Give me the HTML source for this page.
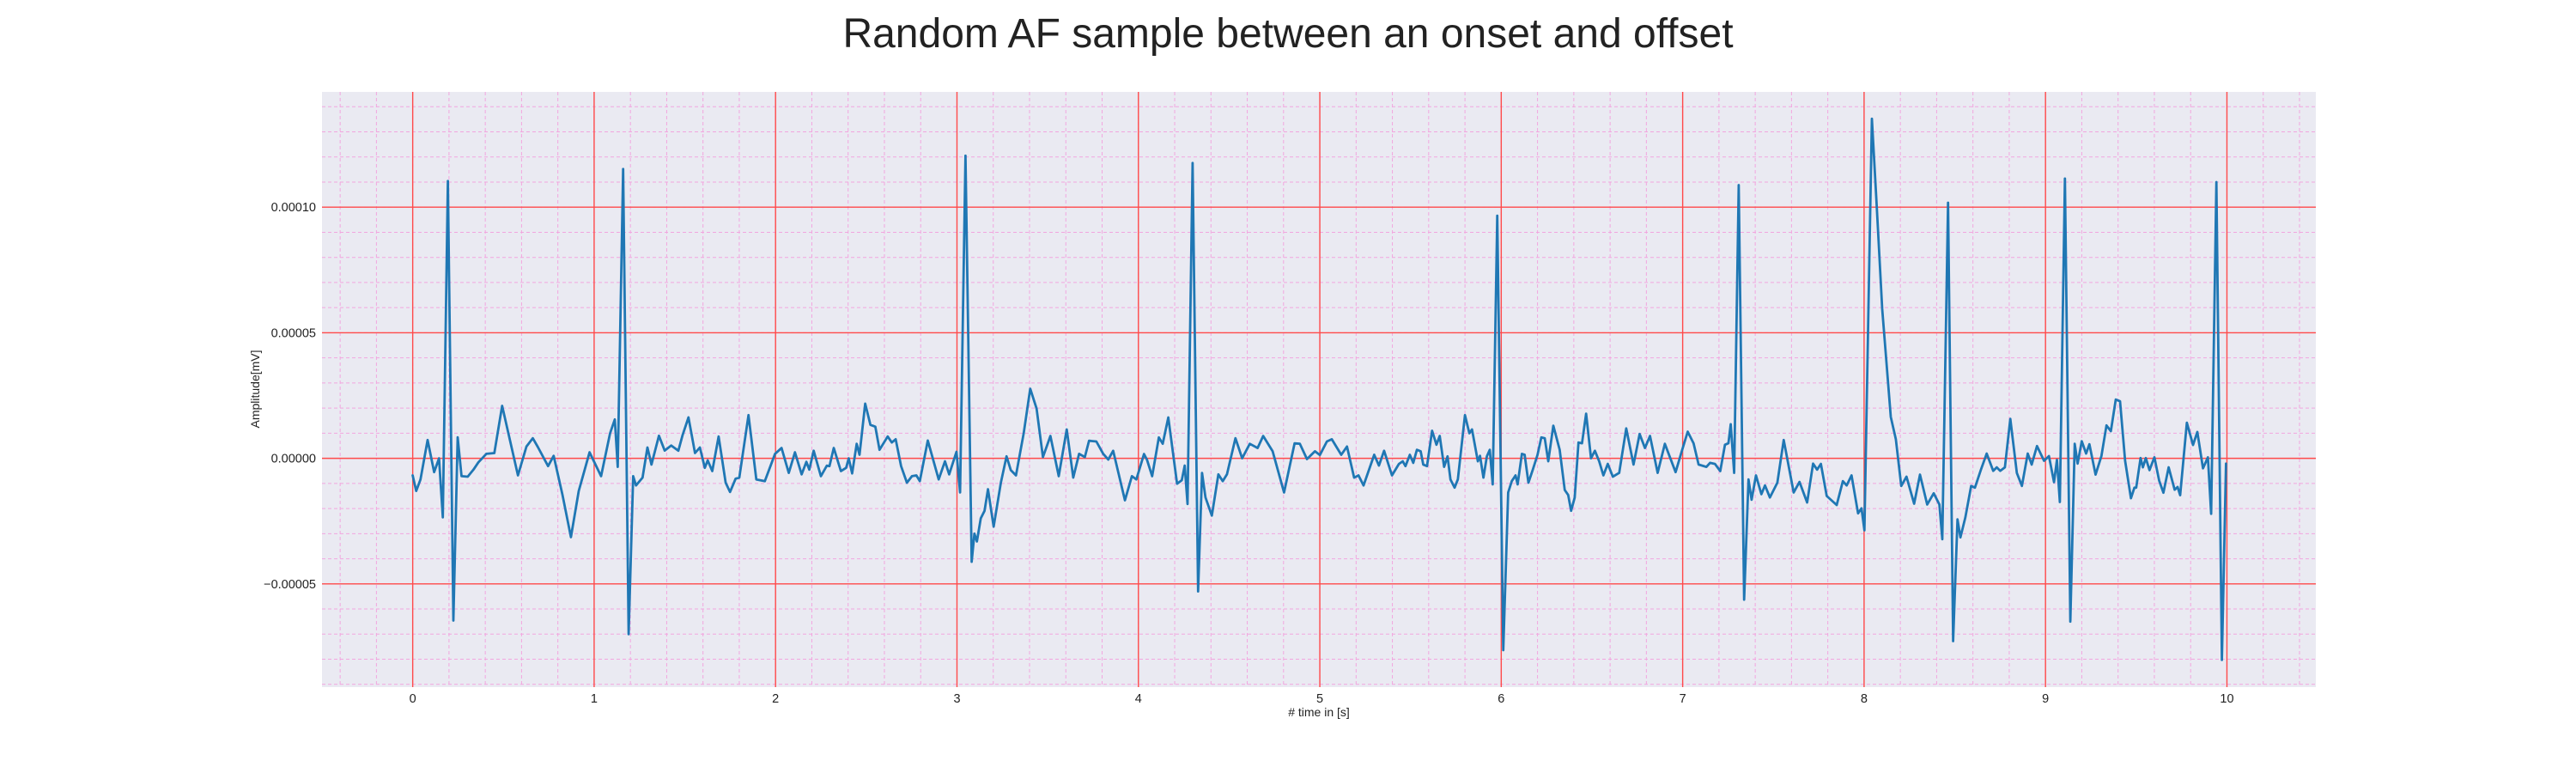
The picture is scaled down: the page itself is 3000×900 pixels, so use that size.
<!DOCTYPE html>
<html><head><meta charset="utf-8"><style>
html,body{margin:0;padding:0;background:#fff;}
svg{display:block;font-family:"Liberation Sans",Arial,sans-serif;}
</style></head><body>
<svg id="chart" width="3000" height="900" viewBox="0 0 3000 900" xmlns="http://www.w3.org/2000/svg">
<text x="1500" y="55" font-size="48" text-anchor="middle" fill="#222">Random AF sample between an onset and offset</text>
<rect x="375" y="107" width="2322" height="693" fill="#EAEAF2"/>
<g id="grid"></g>
<g id="ticks"></g>
<g id="series"></g>
<text transform="translate(302,453) rotate(-90)" font-size="14" text-anchor="middle" fill="#222">Amplitude[mV]</text>
<text x="1536" y="834" font-size="14" text-anchor="middle" fill="#222">#  time in [s]</text>
</svg>
<script>
const xTicks=[0,1,2,3,4,5,6,7,8,9,10];
const yTicks=[-0.00005,0,0.00005,0.0001];
const yTickLabels=["\u22120.00005","0.00000","0.00005","0.00010"];
const times=[0,.019,.043,.082,.118,.145,.166,.194,.224,.248,.269,.303,.335,.362,.406,.45,.493,.58,.627,.662,.69,.746,.777,.825,.872,.915,.975,1.038,1.088,1.114,1.13,1.16,1.19,1.215,1.231,1.267,1.294,1.316,1.357,1.389,1.425,1.464,1.488,1.52,1.556,1.583,1.61,1.626,1.651,1.686,1.725,1.749,1.78,1.8,1.851,1.894,1.941,1.997,2.033,
2.073,2.107,2.144,2.17,2.186,2.21,2.25,2.283,2.297,2.321,2.36,2.389,2.403,2.422,2.447,2.463,2.494,2.523,2.55,2.573,2.618,2.641,2.662,2.692,2.724,2.752,2.776,2.795,2.839,2.899,2.934,2.957,2.997,3.017,3.047,3.081,3.096,3.11,3.131,3.152,3.171,3.202,3.242,3.273,3.297,3.325,3.368,3.404,3.439,3.474,3.515,3.561,3.605,3.641,3.673,3.705,3.728,3.768,3.806,3.834,3.861,3.89,3.926,3.964,3.989,4.031,
4.047,4.076,4.113,4.134,4.165,4.213,4.239,4.255,4.271,4.299,4.329,4.351,4.37,4.405,4.441,4.465,4.488,4.535,4.572,4.614,4.657,4.688,4.74,4.803,4.861,4.89,4.929,4.973,5.0,5.039,5.066,5.118,5.15,5.189,5.213,5.241,5.3,5.326,5.354,5.398,5.436,5.457,5.472,5.496,5.515,5.535,5.556,5.57,5.591,5.619,5.643,5.661,5.685,5.704,5.72,5.743,5.761,5.8,5.824,5.839,5.871,5.883,5.902,5.921,5.937,5.953,5.978,6.011,6.038,
6.058,6.079,6.09,6.114,6.129,6.15,6.174,6.2,6.221,6.24,6.259,6.287,6.322,6.35,6.369,6.385,6.405,6.426,6.445,6.468,6.495,6.516,6.54,6.563,6.587,6.615,6.65,6.689,6.729,6.763,6.792,6.82,6.862,6.902,6.961,6.997,7.028,7.06,7.088,7.131,7.151,7.178,7.207,7.233,7.252,7.265,7.284,7.309,7.339,7.363,7.38,7.404,7.434,7.454,7.481,7.522,7.557,7.612,7.644,7.686,7.719,7.741,7.762,7.794,7.849,7.883,7.904,7.931,7.967,7.986,8.002,
8.043,8.068,8.1,8.147,8.175,8.205,8.234,8.276,8.308,8.348,8.384,8.415,8.431,8.463,8.491,8.515,8.531,8.558,8.59,8.611,8.645,8.676,8.712,8.731,8.75,8.776,8.806,8.842,8.87,8.902,8.924,8.953,8.992,9.019,9.047,9.063,9.079,9.107,9.137,9.161,9.177,9.2,9.224,9.242,9.276,9.308,9.336,9.36,9.387,9.411,9.439,9.471,9.49,9.5,9.524,9.537,9.553,9.573,9.6,9.626,9.65,9.679,9.712,9.728,9.742,9.779,9.813,9.837,9.868,9.895,9.913,9.942,9.972,9.995];
const amplitudes=[-0.68,-1.3,-0.84,0.73,-0.55,0,-2.35,11.04,-6.46,0.84,-0.71,-0.73,-0.45,-0.16,0.18,0.21,2.09,-0.68,0.47,0.8,0.45,-0.31,0.1,-1.43,-3.14,-1.3,0.24,-0.71,1.0,1.55,-0.34,11.52,-7.0,-0.71,-1.08,-0.77,0.43,-0.25,0.9,0.31,0.51,0.3,0.93,1.63,0.21,0.43,-0.38,-0.08,-0.51,0.87,-0.97,-1.34,-0.81,-0.77,1.72,-0.84,-0.91,0.18,0.41,
-0.58,0.24,-0.64,-0.14,-0.45,0.3,-0.71,-0.29,-0.31,0.41,-0.51,-0.38,0,-0.6,0.58,0.14,2.18,1.33,1.26,0.34,0.87,0.63,0.76,-0.31,-0.97,-0.71,-0.68,-0.91,0.71,-0.84,-0.12,-0.64,0.26,-1.36,12.05,-4.12,-3.0,-3.31,-2.39,-2.09,-1.23,-2.72,-0.97,0.08,-0.47,-0.68,1.0,2.77,1.98,0.05,0.89,-0.71,1.15,-0.77,0.18,0.05,0.7,0.67,0.18,-0.05,0.3,-0.58,-1.67,-0.71,-0.84,0.17,
-0.05,-0.71,0.83,0.58,1.63,-1.01,-0.87,-0.29,-1.82,11.76,-5.3,-0.58,-1.56,-2.28,-0.64,-0.91,-0.64,0.8,0,0.58,0.41,0.89,0.28,-1.36,0.6,0.58,-0.03,0.28,0.13,0.67,0.76,0.14,0.47,-0.77,-0.68,-1.08,0.14,-0.29,0.3,-0.68,-0.22,-0.12,-0.31,0.14,-0.18,0.34,0.28,-0.25,-0.31,1.1,0.54,0.89,-0.34,0.08,-0.84,-1.17,-0.84,1.72,1.0,1.15,-0.12,0.1,-0.77,0.08,0.34,-1.04,9.66,-7.64,-1.36,
-0.91,-0.68,-1.04,0.18,0.14,-0.97,-0.45,0.14,0.83,0.8,-0.12,1.3,0.34,-1.26,-1.46,-2.09,-1.56,0.63,0.6,1.78,0,0.3,-0.12,-0.68,-0.22,-0.73,-0.58,1.19,-0.25,0.97,0.41,0.89,-0.58,0.58,-0.55,0.33,1.06,0.6,-0.25,-0.34,-0.18,-0.22,-0.51,0.54,0.6,1.36,-0.58,10.88,-5.63,-0.84,-1.65,-0.68,-1.43,-1.08,-1.56,-0.97,0.73,-1.36,-0.94,-1.76,-0.21,-0.45,-0.22,-1.5,-1.86,-0.91,-1.08,-0.68,-2.19,-1.99,-2.87,
13.52,10.25,5.95,1.65,0.76,-1.1,-0.73,-1.81,-0.65,-1.84,-1.39,-1.84,-3.22,10.18,-7.28,-2.43,-3.15,-2.36,-1.1,-1.17,-0.43,0.19,-0.5,-0.36,-0.5,-0.36,1.57,-0.58,-1.1,0.19,-0.25,0.49,-0.1,0.09,-0.95,-0.06,-1.74,11.14,-6.5,0.58,-0.21,0.68,0.19,0.56,-0.65,0.09,1.31,1.08,2.34,2.27,-0.1,-1.59,-1.17,-1.17,0.01,-0.36,0.01,-0.47,0.04,-0.88,-1.37,-0.36,-1.25,-1.14,-1.47,1.42,0.53,1.05,-0.4,0.04,-2.21,11.0,-8.03,-0.21];
const AMP_UNIT=1e-5;

const NS="http://www.w3.org/2000/svg";
const X0=375,X1=2697,Y0=107,Y1=800;
const XMIN=-0.5,XMAX=10.49,YMIN=-0.0000911,YMAX=0.0001459;
function sx(t){return X0+(t-XMIN)/(XMAX-XMIN)*(X1-X0);}
function sy(v){return Y1-(v-YMIN)/(YMAX-YMIN)*(Y1-Y0);}
function mk(tag,attrs,parent){const e=document.createElementNS(NS,tag);for(const k in attrs)e.setAttribute(k,attrs[k]);parent.appendChild(e);return e;}
const grid=document.getElementById('grid'),ticks=document.getElementById('ticks'),series=document.getElementById('series');

for(let i=-2;i<=52;i++){const t=i*0.2;if(t<XMIN||t>XMAX)continue;
 const l=mk('line',{x1:sx(t),x2:sx(t),y1:Y0,y2:Y1,stroke:'#f2a6df','stroke-width':1,'stroke-dasharray':'4,3'},grid);
 
 }
for(let i=-9;i<=14;i++){const v=i*1e-5;
 const l=mk('line',{x1:X0,x2:X1,y1:sy(v),y2:sy(v),stroke:'#f2a6df','stroke-width':1,'stroke-dasharray':'4,3'},grid);
 
 }
xTicks.forEach(t=>{
 const l=mk('line',{x1:sx(t),x2:sx(t),y1:Y0,y2:Y1,stroke:'#ff4a4a','stroke-width':1.4},grid);
 
 
 const tx=mk('text',{x:sx(t),y:818,'font-size':14.5,'text-anchor':'middle',fill:'#222'},ticks);
 tx.textContent=String(t);
 
 });
yTicks.forEach((v,i)=>{
 const l=mk('line',{x1:X0,x2:X1,y1:sy(v),y2:sy(v),stroke:'#ff4a4a','stroke-width':1.4},grid);
 
 
 const tx=mk('text',{x:368,y:sy(v)+5,'font-size':14.5,'text-anchor':'end',fill:'#222'},ticks);
 tx.textContent=yTickLabels[i];
 
 });
let d='';
times.forEach((t,i)=>{d+=(i?'L':'M')+sx(t).toFixed(1)+','+sy(amplitudes[i]*AMP_UNIT).toFixed(1);});
const p=mk('path',{d:d,fill:'none',stroke:'#1f77b4','stroke-width':2.8,'stroke-linejoin':'round','stroke-linecap':'round'},series);


</script>
</body></html>
